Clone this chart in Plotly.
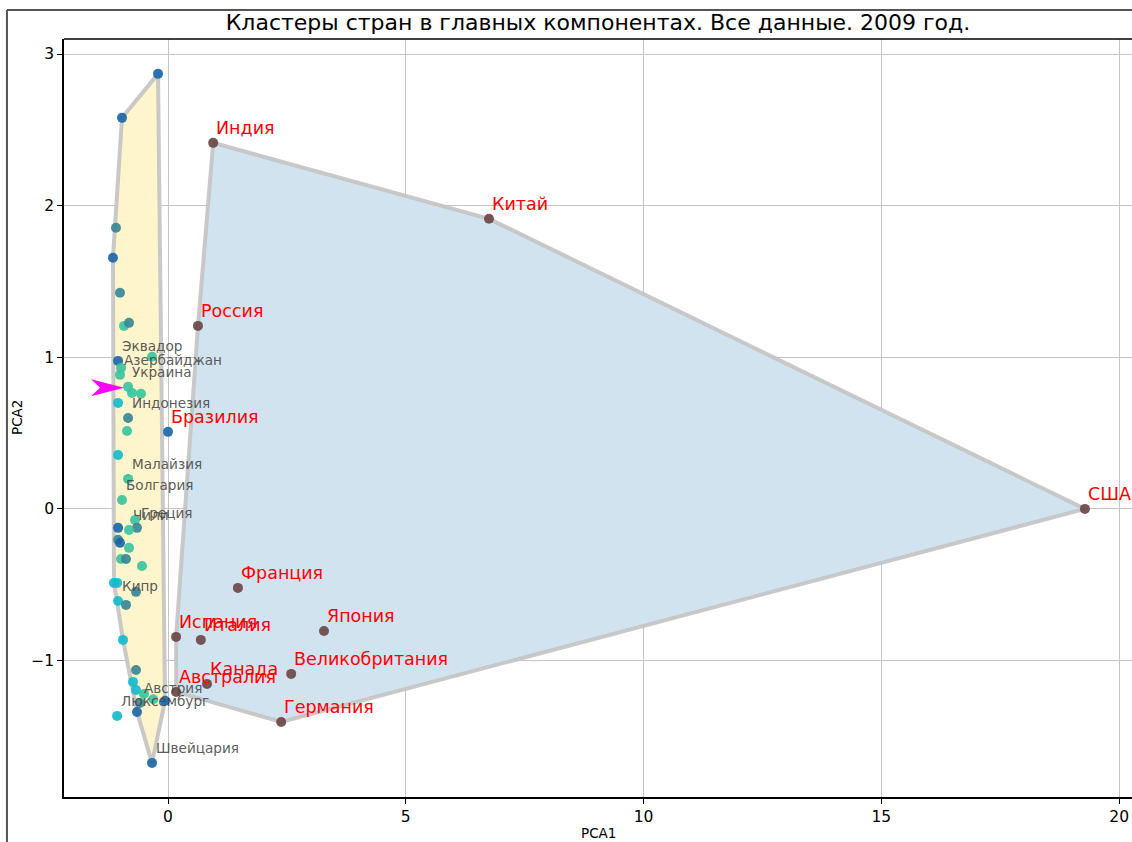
import plotly.graph_objects as go

# ---- data -------------------------------------------------------------
# Large economies (labelled in red)
major_names = ["Индия", "Китай", "Россия", "Бразилия", "США", "Франция", "Япония",
               "Испания", "Италия", "Великобритания", "Канада", "Австралия", "Германия"]
major_pca1 = [0.95, 6.75, 0.63, 0.00, 19.28, 1.47, 3.28,
              0.17, 0.69, 2.59, 0.82, 0.17, 2.38]
major_pca2 = [2.414, 1.913, 1.207, 0.508, 0.000, -0.521, -0.805,
              -0.844, -0.864, -1.088, -1.154, -1.207, -1.405]
major_color = [4, 4, 4, 0, 4, 4, 4, 4, 4, 4, 4, 4, 4]
major_hull = ["B", "B", "B", "", "B", "B", "B", "B", "B", "B", "B", "B", "B"]

# Remaining countries (only some are labelled)
other_names = ["", "", "", "", "", "", "", "Эквадор", "", "",
               "Азербайджан", "Украина", "", "", "", "Индонезия", "", "", "Малайзия", "Болгария",
               "", "Греция", "Чили", "", "", "", "", "", "", "",
               "", "", "", "Кипр", "", "", "", "", "", "Австрия",
               "", "", "", "", "Люксембург", "Швейцария"]
other_pca1 = [-0.21, -0.967, -1.094, -1.157, -1.01, -0.925, -0.82, -1.05, -0.336, -0.988,
              -1.01, -0.84, -0.757, -0.568, -1.05, -0.84, -0.862, -1.05, -0.84, -0.967,
              -0.694, -0.652, -0.82, -1.05, -1.05, -1.01, -0.82, -0.988, -0.883, -0.547,
              -1.136, -1.07, -0.673, -1.05, -0.883, -0.946, -0.673, -0.736, -0.673, -0.589,
              -0.505, -0.31, -0.063, -0.652, -1.07, -0.336]
other_pca2 = [2.869, 2.579, 1.854, 1.656, 1.425, 1.207, 1.227, 0.976, 1.003, 0.930,
              0.884, 0.805, 0.765, 0.759, 0.699, 0.600, 0.514, 0.356, 0.198, 0.059,
              -0.073, -0.125, -0.139, -0.125, -0.204, -0.224, -0.257, -0.330, -0.330, -0.376,
              -0.488, -0.488, -0.547, -0.607, -0.633, -0.864, -1.062, -1.141, -1.194, -1.280,
              -1.220, -1.255, -1.266, -1.339, -1.365, -1.675]
other_color = [0, 0, 1, 0, 1, 2, 1, 0, 2, 2,
               2, 2, 2, 2, 3, 1, 2, 3, 2, 2,
               2, 1, 2, 0, 1, 0, 2, 2, 1, 2,
               3, 3, 1, 3, 1, 3, 1, 3, 3, 1,
               2, 2, 0, 0, 3, 0]
other_hull = ["A"] * 44 + ["", "A"]

x_range = [-2.187, 20.27]
y_range = [-1.90, 3.099]
x_ticks = [0, 5, 10, 15, 20]
y_ticks = [-1, 0, 1, 2, 3]

title_text = "Кластеры стран в главных компонентах. Все данные. 2009 год."

# ---- styles -----------------------------------------------------------
point_colors = {0: "#1c67a6", 1: "#3a8797", 2: "#3cc29f", 3: "#17bacd", 4: "#6b4848"}
hull_fill = {"A": "#fff5cc", "B": "#d2e3f0"}
hull_line = "rgba(195,195,195,0.9)"


def convex_hull(pts):
    pts = sorted(set(pts))
    if len(pts) < 3:
        return pts

    def cross(o, a, b):
        return (a[0] - o[0]) * (b[1] - o[1]) - (a[1] - o[1]) * (b[0] - o[0])

    lower, upper = [], []
    for p in pts:
        while len(lower) >= 2 and cross(lower[-2], lower[-1], p) <= 0:
            lower.pop()
        lower.append(p)
    for p in reversed(pts):
        while len(upper) >= 2 and cross(upper[-2], upper[-1], p) <= 0:
            upper.pop()
        upper.append(p)
    return lower[:-1] + upper[:-1]


all_x = major_pca1 + other_pca1
all_y = major_pca2 + other_pca2
all_hull = major_hull + other_hull
all_color = major_color + other_color

fig = go.Figure()

# cluster hulls
for g in ["A", "B"]:
    pts = [(x, y) for x, y, h in zip(all_x, all_y, all_hull) if h == g]
    hull = convex_hull(pts)
    hx = [p[0] for p in hull] + [hull[0][0]]
    hy = [p[1] for p in hull] + [hull[0][1]]
    fig.add_trace(go.Scatter(x=hx, y=hy, mode="lines", fill="toself",
                             fillcolor=hull_fill[g],
                             line=dict(color=hull_line, width=4),
                             hoverinfo="skip", showlegend=False))

# points
fig.add_trace(go.Scatter(
    x=all_x, y=all_y, mode="markers",
    marker=dict(size=10, color=[point_colors[c] for c in all_color], opacity=0.92,
                line=dict(width=0)),
    showlegend=False))

annotations = []
for n, x, y in zip(other_names, other_pca1, other_pca2):
    if n:
        annotations.append(dict(x=x, y=y, text=n, showarrow=False, xanchor="left",
                                yanchor="middle", xshift=2, yshift=15,
                                font=dict(size=13.6, color="rgba(70,70,70,0.9)",
                                          family="DejaVu Sans")))
for n, x, y in zip(major_names, major_pca1, major_pca2):
    annotations.append(dict(x=x, y=y, text=n, showarrow=False, xanchor="left",
                            yanchor="middle", xshift=1, yshift=15,
                            font=dict(size=17.5, color="#ff0000", family="DejaVu Sans")))

# axis titles
annotations.append(dict(xref="paper", yref="paper", x=0.5, y=0, yshift=-36,
                        text="PCA1", showarrow=False, xanchor="center", yanchor="middle",
                        font=dict(size=13.5, color="black")))
annotations.append(dict(xref="paper", yref="paper", x=0, y=0.5, xshift=-47,
                        text="PCA2", showarrow=False, xanchor="center", yanchor="middle",
                        textangle=-90, font=dict(size=13.5, color="black")))

shapes = []
# pointer to Украина
ui = other_names.index("Украина")
shapes.append(dict(type="path", xref="x", yref="y",
                   xsizemode="pixel", ysizemode="pixel",
                   xanchor=other_pca1[ui], yanchor=other_pca2[ui],
                   path="M -4,-1 L -37,7.5 L -28,-1 L -37,-9.5 Z",
                   fillcolor="#ff00ff", line=dict(width=0)))
# top spine of the axes
shapes.append(dict(type="line", xref="paper", yref="paper", x0=0, x1=1, y0=1, y1=1,
                   line=dict(color="black", width=1.5)))
# figure frame (left and top edges)
shapes.append(dict(type="line", xref="paper", yref="paper", x0=-0.0534, x1=-0.0534,
                   y0=-0.1, y1=1.0383, line=dict(color="#555555", width=2)))
shapes.append(dict(type="line", xref="paper", yref="paper", x0=-0.0534, x1=1.05,
                   y0=1.0383, y1=1.0383, line=dict(color="#555555", width=2)))

fig.update_layout(
    width=1132, height=842,
    margin=dict(l=64, r=0, t=39, b=45),
    paper_bgcolor="white", plot_bgcolor="white",
    font=dict(family="DejaVu Sans", color="black"),
    title=dict(text=title_text, x=(64 + 1132) / 2 / 1132, xanchor="center",
               y=1 - 22 / 842, yanchor="middle", yref="container",
               font=dict(size=22, color="black")),
    annotations=annotations, shapes=shapes,
    xaxis=dict(range=x_range, tickvals=x_ticks, showgrid=True, gridcolor="#c4c4c4",
               gridwidth=1, zeroline=False, showline=True, linecolor="black",
               linewidth=1.5, ticks="outside", ticklen=5, tickcolor="black",
               tickfont=dict(size=15.5)),
    yaxis=dict(range=y_range, tickvals=y_ticks, showgrid=True, gridcolor="#c4c4c4",
               gridwidth=1, zeroline=False, showline=True, linecolor="black",
               linewidth=1.5, ticks="outside", ticklen=5, tickcolor="black",
               tickfont=dict(size=15.5)),
)

fig.write_html("out.html")
